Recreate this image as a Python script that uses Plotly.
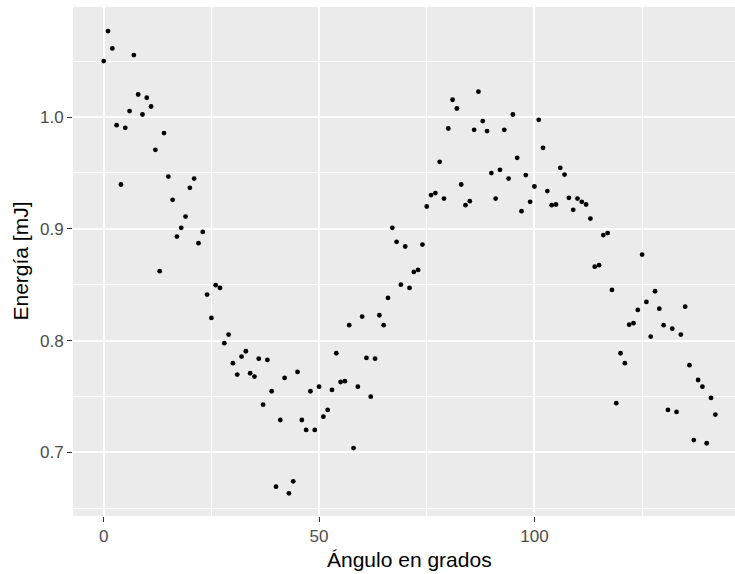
import plotly.graph_objects as go

# Angle (degrees) and measured pulse energy (mJ)
angulo = [
    0, 1, 2, 3, 4, 5, 6, 7, 8, 9, 10, 11, 12, 13, 14, 15, 16, 17, 18, 19,
    20, 21, 22, 23, 24, 25, 26, 27, 28, 29, 30, 31, 32, 33, 34, 35, 36, 37, 38, 39,
    40, 41, 42, 43, 44, 45, 46, 47, 48, 49, 50, 51, 52, 53, 54, 55, 56, 57, 58, 59,
    60, 61, 62, 63, 64, 65, 66, 67, 68, 69, 70, 71, 72, 73, 74, 75, 76, 77, 78, 79,
    80, 81, 82, 83, 84, 85, 86, 87, 88, 89, 90, 91, 92, 93, 94, 95, 96, 97, 98, 99,
    100, 101, 102, 103, 104, 105, 106, 107, 108, 109, 110, 111, 112, 113, 114, 115, 116, 117, 118, 119,
    120, 121, 122, 123, 124, 125, 126, 127, 128, 129, 130, 131, 132, 133, 134, 135, 136, 137, 138, 139,
    140, 141, 142,
]
energia = [
    1.0501, 1.0770, 1.0614, 0.9928, 0.9397, 0.9904, 1.0054, 1.0555, 1.0202, 1.0023,
    1.0173, 1.0095, 0.9707, 0.8621, 0.9857, 0.9468, 0.9260, 0.8931, 0.9009, 0.9110,
    0.9367, 0.9450, 0.8872, 0.8973, 0.8412, 0.8203, 0.8496, 0.8472, 0.7977, 0.8054,
    0.7798, 0.7696, 0.7857, 0.7905, 0.7708, 0.7678, 0.7839, 0.7427, 0.7827, 0.7547,
    0.6693, 0.7290, 0.7666, 0.6634, 0.6741, 0.7720, 0.7290, 0.7201, 0.7547, 0.7201,
    0.7588, 0.7320, 0.7380, 0.7559, 0.7887, 0.7630, 0.7637, 0.8138, 0.7039, 0.7588,
    0.8215, 0.7845, 0.7499, 0.7839, 0.8227, 0.8138, 0.8382, 0.9009, 0.8884, 0.8501,
    0.8842, 0.8472, 0.8615, 0.8633, 0.8859, 0.9200, 0.9302, 0.9320, 0.9600, 0.9271,
    0.9898, 1.0155, 1.0077, 0.9397, 0.9212, 0.9248, 0.9886, 1.0227, 0.9964, 0.9875,
    0.9499, 0.9271, 0.9528, 0.9886, 0.9450, 1.0023, 0.9636, 0.9158, 0.9481, 0.9242,
    0.9379, 0.9976, 0.9725, 0.9338, 0.9212, 0.9218, 0.9546, 0.9486, 0.9278, 0.9170,
    0.9271, 0.9242, 0.9218, 0.9092, 0.8662, 0.8675, 0.8944, 0.8962, 0.8454, 0.7440,
    0.7887, 0.7798, 0.8143, 0.8156, 0.8275, 0.8770, 0.8346, 0.8036, 0.8442, 0.8286,
    0.8138, 0.7380, 0.8107, 0.7362, 0.8054, 0.8304, 0.7780, 0.7110, 0.7648, 0.7588,
    0.7082, 0.7487, 0.7338,
]

x_ticks = [0, 50, 100]
x_minor = [25, 75, 125]
y_ticks = [0.7, 0.8, 0.9, 1.0]
y_minor = [0.65, 0.75, 0.85, 0.95, 1.05]

FONT = "Liberation Sans, Arial, sans-serif"

fig = go.Figure(
    go.Scatter(
        x=angulo,
        y=energia,
        mode="markers",
        marker=dict(color="black", size=4.8, line=dict(width=0)),
        hoverinfo="x+y",
    )
)

axis_common = dict(
    showline=False,
    zeroline=False,
    showgrid=True,
    gridcolor="white",
    gridwidth=1.7,
    ticks="outside",
    ticklen=5,
    tickwidth=1.4,
    tickcolor="#333333",
    tickfont=dict(family=FONT, size=17, color="#4D4D4D"),
)

fig.update_xaxes(
    range=[-7.13, 146.57],
    tickmode="array",
    tickvals=x_ticks,
    ticktext=[str(v) for v in x_ticks],
    minor=dict(tickmode="array", tickvals=x_minor, showgrid=True,
               gridcolor="white", gridwidth=0.85, ticks=""),
    **axis_common,
)
fig.update_yaxes(
    range=[0.6431, 1.0985],
    tickmode="array",
    tickvals=y_ticks,
    ticktext=[f"{v:.1f}" for v in y_ticks],
    minor=dict(tickmode="array", tickvals=y_minor, showgrid=True,
               gridcolor="white", gridwidth=0.85, ticks=""),
    **axis_common,
)

fig.update_layout(
    width=735,
    height=574,
    margin=dict(l=73, r=0, t=7, b=58, pad=0),
    paper_bgcolor="white",
    plot_bgcolor="#EBEBEB",
    showlegend=False,
    font=dict(family=FONT, color="black"),
    annotations=[
        dict(text="Ángulo en grados", xref="paper", yref="paper",
             x=0.509, y=-0.0864, xanchor="center", yanchor="middle",
             showarrow=False, font=dict(family=FONT, size=21, color="black")),
        dict(text="Energía [mJ]", xref="paper", yref="paper",
             x=-0.0800, y=0.5, xanchor="center", yanchor="middle",
             textangle=-90, showarrow=False,
             font=dict(family=FONT, size=21, color="black")),
    ],
)

fig.write_html("out.html")
